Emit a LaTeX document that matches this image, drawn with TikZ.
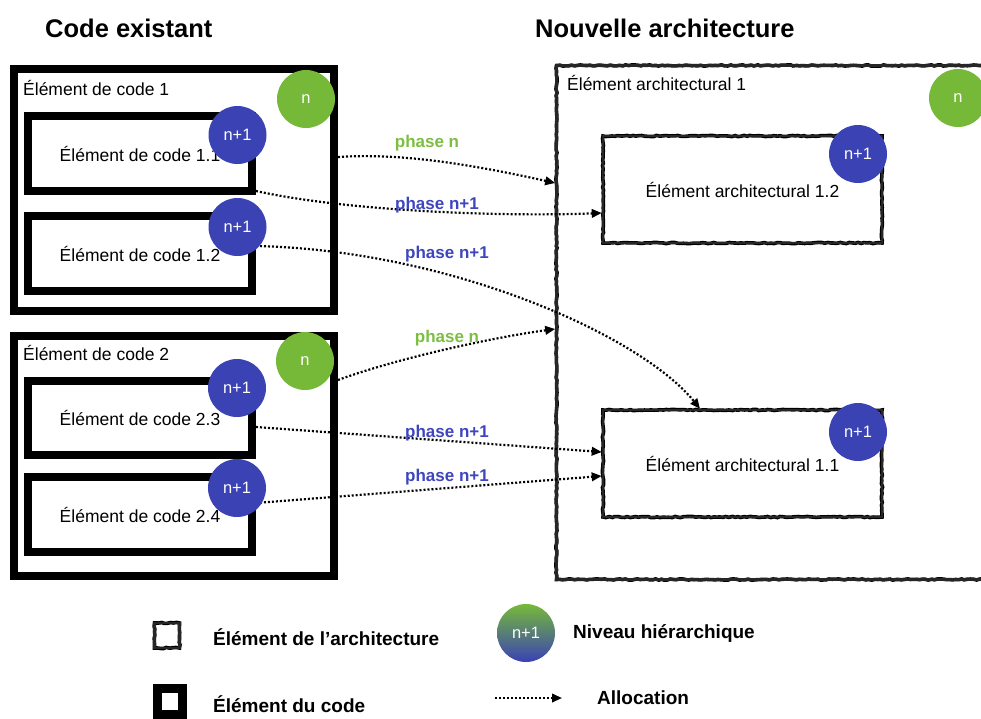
\documentclass[tikz,border=0pt]{standalone}
\usepackage{fontspec}
\setmainfont{Liberation Sans}
\usetikzlibrary{arrows.meta,decorations.pathmorphing}
\definecolor{cgreen}{RGB}{118,185,57}
\definecolor{cblue}{RGB}{58,66,180}
\definecolor{tgreen}{RGB}{124,190,66}
\definecolor{tblue}{RGB}{62,70,190}
\begin{document}
\begin{tikzpicture}[x=1pt,y=-1pt,
  codebox/.style={draw=black, line width=8pt, inner sep=0pt, fill=white, font=\fontsize{17.5}{20}\selectfont},
  archbox/.style={draw=black!85, line width=2.6pt, inner sep=0pt, font=\fontsize{17.5}{20}\selectfont,
    preaction={draw=black, line width=3.6pt, decorate, decoration={random steps, segment length=3pt, amplitude=0.6pt}}},
  plain/.style={inner sep=0pt, anchor=west, font=\fontsize{17.5}{20}\selectfont},
  lvl/.style={circle, minimum size=58pt, inner sep=0pt, text=white, font=\fontsize{16.5}{18}\selectfont},
  lvln/.style={lvl, fill=cgreen},
  lvlb/.style={lvl, fill=cblue},
  alloc/.style={line width=2.2pt, dash pattern=on 2pt off 2pt, -{Triangle[length=10pt,width=8.5pt]}},
  phase/.style={inner sep=0pt, font=\bfseries\fontsize{17}{20}\selectfont},
  head/.style={inner sep=0pt, anchor=west, font=\bfseries\fontsize{25.5}{30}\selectfont},
  legend/.style={inner sep=0pt, anchor=west, font=\bfseries\fontsize{19}{22}\selectfont}]
\pgfmathsetseed{7}
\useasboundingbox (0,0) rectangle (981,718);
\clip (0,0) rectangle (981,718);

% headings
\node[head] (h1) at (45,28) {Code existant};
\node[head] (h2) at (535,28) {Nouvelle architecture};

% code side
\node[codebox, minimum width=320pt, minimum height=242pt] (b1) at (174,190) {};
\node[plain] (t1) at (23,88) {Élément de code 1};
\node[codebox, minimum width=224pt, minimum height=75pt] (b11) at (140,153.5) {Élément de code 1.1};
\node[codebox, minimum width=224pt, minimum height=75pt] (b12) at (140,253.5) {Élément de code 1.2};

\node[codebox, minimum width=320pt, minimum height=240pt] (b2) at (174,456) {};
\node[plain] (t2) at (23,353) {Élément de code 2};
\node[codebox, minimum width=224pt, minimum height=74pt] (b23) at (140,418) {Élément de code 2.3};
\node[codebox, minimum width=224pt, minimum height=75pt] (b24) at (140,514.5) {Élément de code 2.4};

% architecture side
\node[archbox, minimum width=453pt, minimum height=514pt] (A1) at (783,322.5) {};
\node[plain] (tA1) at (567,83) {Élément architectural 1};
\node[archbox, minimum width=279pt, minimum height=107pt] (A12) at (742.5,189.5) {Élément architectural 1.2};
\node[archbox, minimum width=279pt, minimum height=107pt] (A11) at (742.5,463.5) {Élément architectural 1.1};

% allocations
\draw[alloc] ([yshift=33pt]b1.east) .. controls +(60,-4) and +(-90,-20) .. ([yshift=139.5pt]A1.west);
\draw[alloc] ([yshift=4pt]b11.south east) .. controls +(90,20) and +(-100,4) .. ([yshift=-23.5pt]A12.west);
\draw[alloc] ([yshift=7.5pt]b12.east) .. controls +(192,4) and +(-60,-74) .. ([xshift=-42.5pt]A11.north);
\draw[alloc] ([yshift=76pt]b2.east) .. controls +(60,-22) and +(-60,8) .. ([yshift=-6.5pt]A1.west);
\draw[alloc] ([yshift=-9pt]b23.east) -- ([yshift=11.5pt]A11.west);
\draw[alloc] ([yshift=11.5pt]b24.east) -- ([yshift=-12.5pt]A11.west);

\node[phase, text=tgreen] (p1) at (427,143) {phase n};
\node[phase, text=tblue] (p2) at (437,205) {phase n+1};
\node[phase, text=tblue] (p3) at (447,254) {phase n+1};
\node[phase, text=tgreen] (p4) at (447,338) {phase n};
\node[phase, text=tblue] (p5) at (447,433) {phase n+1};
\node[phase, text=tblue] (p6) at (447,477) {phase n+1};

% level circles
\node[lvln] (c1) at (306,99) {n};
\node[lvlb] (c11) at (237.5,135) {n+1};
\node[lvlb] (c12) at (237.5,227) {n+1};
\node[lvln] (c2) at (305,361) {n};
\node[lvlb] (c23) at (237,388) {n+1};
\node[lvlb] (c24) at (237,488) {n+1};
\node[lvln] (a1) at (958,98) {n};
\node[lvlb] (a12) at (858,154) {n+1};
\node[lvlb] (a11) at (858,432) {n+1};

% legend
\node[archbox, minimum width=25pt, minimum height=25pt] (lgA) at (167,635.5) {};
\node[legend] (ltA) at (213,637) {Élément de l’architecture};
\node[codebox, line width=9pt, minimum width=25pt, minimum height=26pt] (lgC) at (170,701) {};
\node[legend] (ltC) at (213,704) {Élément du code};
\node[lvl, top color=cgreen, bottom color=cblue] (lg) at (526,633) {n+1};
\node[legend] (ltN) at (573,633) {Niveau hiérarchique};
\coordinate (la1) at (495,698);
\coordinate (la2) at (562,698);
\draw[alloc] (la1) -- (la2);
\node[legend] (ltAl) at (597,698) {Allocation};
\end{tikzpicture}
\end{document}
